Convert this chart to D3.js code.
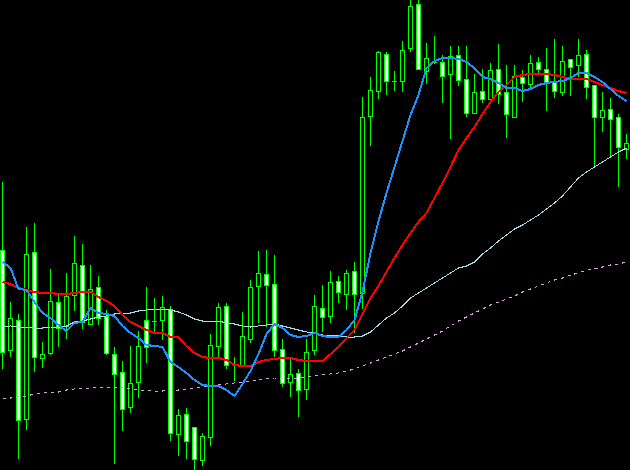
<!DOCTYPE html>
<html>
<head>
<meta charset="utf-8">
<script src="https://cdn.jsdelivr.net/npm/d3@7"></script>
<style>
html,body{margin:0;padding:0;background:#000;overflow:hidden;}
svg{display:block;}
</style>
</head>
<body>
<svg id="chart" width="630" height="470"></svg>
<script>
// OHLC values (price units)
const open  = [220,120,150,51,218,112,117,168,144,175,205,146,183,154,116,98,63,88,150,149,
               150,161,36,56,43,10,33,124,164,106,105,131,184,196,186,121,88,97,81,
               120,162,154,189,176,199,177,354,379,416,389,389,422,466,399,408,408,396,415,
               391,357,379,371,401,378,353,393,386,408,401,388,378,411,405,416,385,353,361,353,321];
const high  = [288,168,156,243,247,128,201,177,197,234,226,205,194,160,123,109,124,139,183,172,
               174,164,61,62,43,37,136,167,167,113,158,190,219,220,215,131,113,101,131,
               175,185,199,194,200,208,373,393,419,418,399,429,472,472,427,434,415,424,424,
               424,396,401,407,426,405,405,400,415,413,422,431,424,411,431,420,385,378,372,356,336];
const low   = [101,113,11,40,98,102,115,123,131,159,141,146,145,115,6,39,57,72,107,138,
               130,29,14,11,-2,4,24,113,101,89,103,127,147,143,113,83,73,53,70,
               115,138,147,167,160,137,161,324,371,375,379,378,418,400,386,406,367,331,384,
               353,357,367,370,366,332,353,368,382,397,359,372,374,374,393,371,302,338,314,283,311];
const close = [118,152,50,216,113,116,169,142,174,207,148,181,152,117,96,61,87,124,123,149,
               163,37,55,29,11,34,125,163,105,106,134,183,197,185,120,87,96,80,118,
               164,153,188,178,197,176,353,380,418,389,389,420,464,401,412,408,394,414,390,
               357,378,371,400,376,356,394,387,407,401,387,379,409,403,415,383,353,360,351,323,327];

// Moving averages (price units, one value per bar)
const maFast = [208,202,181,180,168,157,152,145,139,147,148,162,157,156,154,144,137,132,125,124,
                123,108,103,97,90,85,84,84,80,74,86,99,116,136,146,142,135,133,134,
                137,134,133,133,140,150,178,217,249,277,303,329,355,375,402,409,412,412,411,
                408,402,393,391,387,382,382,379,381,385,387,388,389,392,397,397,393,388,381,374,369];
const maMid  = [188,186,182,180,178,177,177,176,176,177,178,178,173,169,164,155,148,144,140,137,
                137,133,133,124,117,113,112,112,110,105,104,104,108,110,111,112,112,110,109,
                109,109,116,123,132,140,156,172,184,198,212,225,237,248,257,272,287,303,320,
                332,343,356,368,378,385,393,395,396,396,396,395,393,391,391,391,388,385,382,379,377];
const maSlow = [143,144,143,143,142,142,143,143,144,148,149,151,153,154,156,157,157,159,160,161,
                161,160,158,155,151,149,149,149,147,146,144,143,144,145,146,144,142,140,138,
                137,135,135,134,133,133,134,138,145,152,157,164,172,177,182,187,192,197,202,
                204,208,216,222,229,235,241,245,250,255,261,267,274,283,292,298,303,308,313,318,322];
const maLong = [72,72,73,74,76,77,78,78,80,81,82,82,83,83,83,83,81,80,80,79,
                79,80,80,81,82,83,84,85,86,87,88,89,90,91,92,92,92,92,93,
                94,95,96,97,99,101,104,107,110,113,
                116,119,123,127,131,135,139,144,149,153,157,
                161,165,168,171,174,178,181,184,187,190,192,195,197,200,201,203,205,206,208];

const W = 630, H = 470;
const svg = d3.select("#chart");
svg.append("rect").attr("width", W).attr("height", H).attr("fill", "#000");

const n = open.length;
const x = d3.scaleLinear().domain([0, n - 1]).range([2.5, 2.5 + 8 * (n - 1)]);
const y = d3.scaleLinear().domain([0, 470]).range([470, 0]);

const bars = d3.range(n).map(i => ({i, o: open[i], h: high[i], l: low[i], c: close[i]}));
const green = "#00ff00";

const g = svg.append("g").attr("shape-rendering", "crispEdges");
// wicks
g.selectAll("line.wick").data(bars).join("line")
  .attr("class", "wick")
  .attr("x1", d => x(d.i)).attr("x2", d => x(d.i))
  .attr("y1", d => Math.round(y(d.h))).attr("y2", d => Math.round(y(d.l)))
  .attr("stroke", green).attr("stroke-width", 1);
// bodies
const bodies = bars.filter(d => d.o !== d.c);
g.selectAll("rect.body").data(bodies).join("rect")
  .attr("class", "body")
  .attr("x", d => x(d.i) - 2)
  .attr("width", 4)
  .attr("y", d => Math.round(y(Math.max(d.o, d.c))) + 0.5)
  .attr("height", d => Math.max(1, Math.round(y(Math.min(d.o, d.c))) - Math.round(y(Math.max(d.o, d.c)))))
  .attr("fill", d => d.c < d.o ? "#ffffff" : "#000000")
  .attr("stroke", green).attr("stroke-width", 1);
// dojis
const dojis = bars.filter(d => d.o === d.c);
g.selectAll("line.doji").data(dojis).join("line")
  .attr("class", "doji")
  .attr("x1", d => x(d.i) - 2.5).attr("x2", d => x(d.i) + 2.5)
  .attr("y1", d => Math.round(y(d.o)) + 0.5).attr("y2", d => Math.round(y(d.o)) + 0.5)
  .attr("stroke", green).attr("stroke-width", 1);

const line = d3.line().x((d, i) => x(i)).y(d => y(d));
const lg = svg.append("g").attr("shape-rendering", "crispEdges");

lg.append("path").datum(maLong).attr("d", line)
  .attr("fill", "none").attr("stroke", "#e0a0e8").attr("stroke-width", 1)
  .attr("stroke-dasharray", "3,4");
lg.append("path").datum(maSlow).attr("d", line)
  .attr("fill", "none").attr("stroke", "#b0dce8").attr("stroke-width", 1);
lg.append("path").datum(maMid).attr("d", line)
  .attr("fill", "none").attr("stroke", "#ff0000").attr("stroke-width", 2);
lg.append("path").datum(maFast).attr("d", line)
  .attr("fill", "none").attr("stroke", "#1e90ff").attr("stroke-width", 2);
</script>
</body>
</html>
